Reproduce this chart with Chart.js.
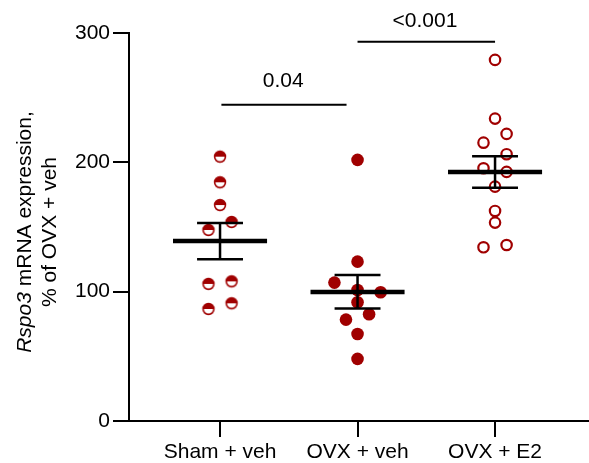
<!DOCTYPE html>
<html>
<head>
<meta charset="utf-8">
<script src="https://cdn.jsdelivr.net/npm/chart.js@4.4.1/dist/chart.umd.min.js"></script>
<style>
  body { margin: 0; background: #fff; }
</style>
</head>
<body>
<canvas id="chart" width="589" height="463"></canvas>
<script>
const groups = ["Sham + veh", "OVX + veh", "OVX + E2"];
const groupPos = [1, 2, 3];
const yTicks = [0, 100, 200, 300];

// values, jitter in steps of one dot
const shamValues = [204.4, 184.6, 167, 153.9, 147.7, 108, 106, 91, 86.6];
const shamJitter = [0, 0, 0, 1, -1, 1, -1, 1, -1];
const ovxValues = [201.9, 123.2, 107, 101.3, 99.5, 91.8, 82.5, 78.4, 67.3, 48];
const ovxJitter = [0, 0, -2, 0, 2, 0, 1, -1, 0, 0];
const e2Values = [279.2, 233.8, 222, 215.2, 206.3, 195.4, 192.6, 181.2, 162.4, 153.4, 134.3, 136.1];
const e2Jitter = [0, 0, 1, -1, 1, -1, 1, 0, 0, 0, -1, 1];

const means = [139.2, 99.8, 192.6];
const semHigh = [153, 112.9, 204.7];
const semLow = [125, 86.9, 180.4];

// significance brackets
const sigFrom = [1.01, 2.0];
const sigTo = [1.92, 3.0];
const sigY = [244.6, 293.3];
const sigText = ["0.04", "<0.001"];
const sigTextX = [1.46, 2.49];
const sigTextY = [262.4, 309.3];

const FONT = '"Liberation Sans", Arial, sans-serif';
const RED = "#a00000";
const JIT = 0.084;
const MEAN_HALF = 0.342;
const CAP_HALF = 0.167;

function halfDot() {
  const c = document.createElement("canvas");
  c.width = 16; c.height = 16;
  const g = c.getContext("2d");
  g.beginPath(); g.arc(8, 8, 5.4, 0, Math.PI * 2);
  g.fillStyle = "#fff"; g.fill();
  g.beginPath(); g.arc(8, 8, 5.4, Math.PI, 0); g.closePath();
  g.fillStyle = RED; g.fill();
  g.beginPath(); g.arc(8, 8, 5.4, 0, Math.PI * 2);
  g.lineWidth = 1.6; g.strokeStyle = RED; g.stroke();
  return c;
}

function dots(values, jitter, pos) {
  return values.map((v, i) => ({ x: pos + jitter[i] * JIT, y: v }));
}

const datasets = [];
datasets.push({
  type: "scatter", data: dots(shamValues, shamJitter, groupPos[0]),
  pointStyle: halfDot(), order: 2
});
datasets.push({
  type: "scatter", data: dots(ovxValues, ovxJitter, groupPos[1]),
  pointStyle: "circle", pointRadius: 6.3, backgroundColor: RED, borderColor: RED, borderWidth: 0, order: 2
});
datasets.push({
  type: "scatter", data: dots(e2Values, e2Jitter, groupPos[2]),
  pointStyle: "circle", pointRadius: 5.2, backgroundColor: "#fff", borderColor: RED, borderWidth: 2.2, order: 2
});

groupPos.forEach((p, i) => {
  datasets.push({
    type: "line", order: 1, borderColor: "#000", borderWidth: 4.5, pointRadius: 0,
    data: [{ x: p - MEAN_HALF, y: means[i] }, { x: p + MEAN_HALF, y: means[i] }]
  });
  datasets.push({
    type: "line", order: 1, borderColor: "#000", borderWidth: 2.5, pointRadius: 0, spanGaps: false,
    data: [
      { x: p - CAP_HALF, y: semHigh[i] }, { x: p + CAP_HALF, y: semHigh[i] }, { x: p, y: null },
      { x: p, y: semHigh[i] }, { x: p, y: semLow[i] }, { x: p, y: null },
      { x: p - CAP_HALF, y: semLow[i] }, { x: p + CAP_HALF, y: semLow[i] }
    ]
  });
});

sigFrom.forEach((f, i) => {
  datasets.push({
    type: "line", order: 1, borderColor: "#000", borderWidth: 2, pointRadius: 0,
    data: [{ x: f, y: sigY[i] }, { x: sigTo[i], y: sigY[i] }]
  });
});

const extras = {
  id: "extras",
  afterDraw(chart) {
    const ctx = chart.ctx;
    const xs = chart.scales.x, ys = chart.scales.y;
    ctx.save();
    ctx.fillStyle = "#000";
    ctx.textAlign = "center";
    ctx.textBaseline = "middle";
    ctx.font = "21px " + FONT;
    sigText.forEach((t, i) => {
      ctx.fillText(t, xs.getPixelForValue(sigTextX[i]), ys.getPixelForValue(sigTextY[i]));
    });

    // y axis title, two lines, first word italic
    const cy = (chart.chartArea.top + chart.chartArea.bottom) / 2 + 5;
    ctx.translate(25, cy);
    ctx.rotate(-Math.PI / 2);
    ctx.textAlign = "left";
    const a = "Rspo3", b = " mRNA expression,";
    ctx.font = "italic 21px " + FONT;
    const wa = ctx.measureText(a).width;
    ctx.font = "21px " + FONT;
    const wb = ctx.measureText(b).width;
    let sx = -(wa + wb) / 2;
    ctx.font = "italic 21px " + FONT;
    ctx.fillText(a, sx, 0);
    ctx.font = "21px " + FONT;
    ctx.fillText(b, sx + wa, 0);
    ctx.textAlign = "center";
    ctx.fillText("% of OVX + veh", 0, 25);
    ctx.restore();
  }
};

new Chart(document.getElementById("chart"), {
  type: "scatter",
  data: { datasets: datasets },
  plugins: [extras],
  options: {
    responsive: false,
    animation: false,
    layout: { autoPadding: false, padding: { top: 33, left: 0, right: 1, bottom: 0 } },
    plugins: { legend: { display: false }, tooltip: { enabled: false } },
    scales: {
      x: {
        type: "linear", min: 0.338, max: 3.676,
        afterBuildTicks: (s) => { s.ticks = groupPos.map((v) => ({ value: v })); },
        afterFit: (s) => { s.height = 42; s.paddingRight = 0; s.paddingLeft = 0; },
        grid: { drawOnChartArea: false, color: "#000", tickLength: 16, lineWidth: 2 },
        border: { color: "#000", width: 2 },
        ticks: {
          autoSkip: false, maxRotation: 0, color: "#000", padding: 3,
          font: { family: FONT, size: 21 },
          callback: (v, i) => groups[i]
        }
      },
      y: {
        min: 0, max: 300,
        afterBuildTicks: (s) => { s.ticks = yTicks.map((v) => ({ value: v })); },
        afterFit: (s) => { s.width = 129; },
        grid: { drawOnChartArea: false, color: "#000", tickLength: 16, lineWidth: 2 },
        border: { color: "#000", width: 2 },
        ticks: { color: "#000", padding: 3, font: { family: FONT, size: 21 } }
      }
    }
  }
});
</script>
</body>
</html>
